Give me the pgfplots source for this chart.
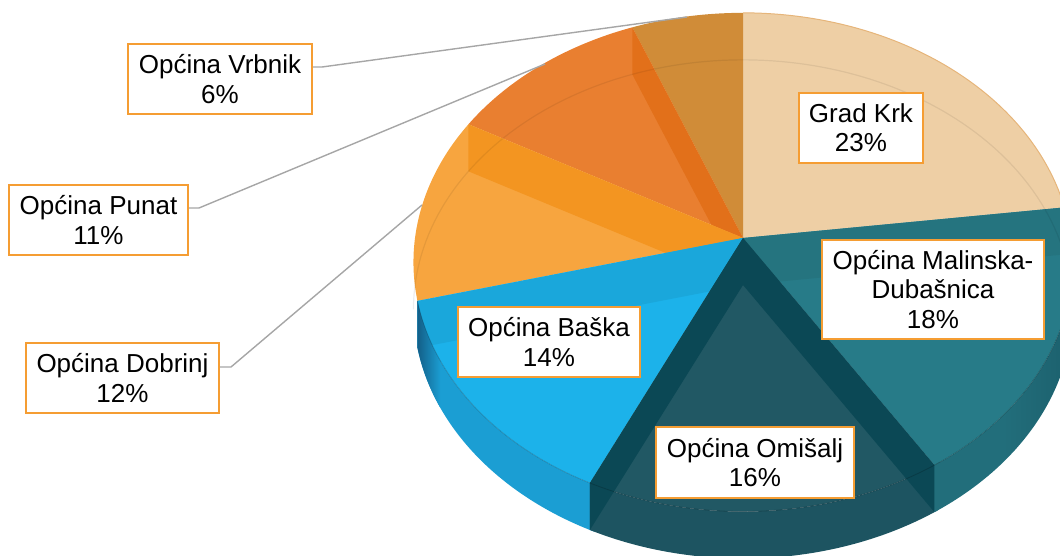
\documentclass[border=0pt]{standalone}
\usepackage{pgfplots}
\pgfplotsset{compat=1.18}
\usepackage{fontspec}
\setmainfont{Liberation Sans}
\definecolor{cKrk}{HTML}{EECFA5}
\definecolor{cKrkE}{HTML}{E6B57A}
\definecolor{cMal}{HTML}{277B88}
\definecolor{cMalB}{HTML}{25747F}
\definecolor{cMalS}{HTML}{226E7B}
\definecolor{cMalSD}{HTML}{1C606D}
\definecolor{cOmi}{HTML}{215864}
\definecolor{cOmiB}{HTML}{0B4855}
\definecolor{cOmiS}{HTML}{1D5461}
\definecolor{cBas}{HTML}{1CB2EA}
\definecolor{cBasB}{HTML}{1AA7DB}
\definecolor{cBasS}{HTML}{1B9ED3}
\definecolor{cBasSD}{HTML}{135F88}
\definecolor{cDob}{HTML}{F7A53F}
\definecolor{cDobB}{HTML}{F39521}
\definecolor{cPun}{HTML}{E97F30}
\definecolor{cPunB}{HTML}{E2701A}
\definecolor{cVrb}{HTML}{D08C38}
\definecolor{lblorange}{HTML}{F59D33}
\definecolor{leader}{HTML}{A6A6A6}

% shares (percent)
\def\pKrk{23}\def\pMal{18}\def\pOmi{16}\def\pBas{14}\def\pDob{12}\def\pPun{11}\def\pVrb{6}
\def\cx{743}\def\cy{238}\def\dep{47}

\newcommand\topface[3]{\addplot[fill=#1,draw=none,domain=#3:#2,samples=80,variable=\t] ({px(\t)},{py(\t)}) -- (axis cs:\cx,\cy) -- cycle;}
\newcommand\sideface[3]{\addplot[#1,draw=none,domain=0:2,samples=241,variable=\s] ({px(sth(\s,#2,#3))},{py(sth(\s,#2,#3))+\dep*(\s>1)}) -- cycle;}
\newcommand\wallband[3]{\addplot[fill=#1,draw=none] coordinates {(\cx,\cy) (#2,#3) (#2,#3+\dep) (\cx,\cy+\dep)} -- cycle;}

\begin{document}
\begin{tikzpicture}[declare function={
  px(\t)=743+328*cos(\t)/(1+0.097*sin(\t));
  py(\t)=238-247*sin(\t)/(1+0.097*sin(\t));
  sth(\s,\a,\b)=\a+(\b-\a)*(\s-2*(\s-1)*(\s>1));
},
lbl/.style={draw=lblorange, line width=1pt, fill=white, align=center, inner sep=0pt,
  font=\fontsize{13}{14.7}\selectfont, text=black}]
\pgfmathsetmacro\tA{90}
\pgfmathsetmacro\tB{\tA-3.6*\pKrk}
\pgfmathsetmacro\tC{\tB-3.6*\pMal}
\pgfmathsetmacro\tD{\tC-3.6*\pOmi}
\pgfmathsetmacro\tE{\tD-3.6*\pBas}
\pgfmathsetmacro\tF{\tE-3.6*\pDob}
\pgfmathsetmacro\tG{\tF-3.6*\pPun}
\pgfmathsetmacro\tZ{\tG-3.6*\pVrb}
\pgfmathsetmacro\tEm{\tE+14}
\pgfmathsetmacro\tDx{\tD+1.2}
\pgfmathsetmacro\tCx{\tC+1.2}
\pgfmathsetmacro\xB{px(\tB)}\pgfmathsetmacro\yB{py(\tB)}
\pgfmathsetmacro\xC{px(\tC)}\pgfmathsetmacro\yC{py(\tC)}
\pgfmathsetmacro\xD{px(\tD)}\pgfmathsetmacro\yD{py(\tD)}
\pgfmathsetmacro\xE{px(\tE)}\pgfmathsetmacro\yE{py(\tE)}
\pgfmathsetmacro\xF{px(\tF)}\pgfmathsetmacro\yF{py(\tF)}
\pgfmathsetmacro\xG{px(\tG)}\pgfmathsetmacro\yG{py(\tG)}
\begin{axis}[width=530pt,height=278pt,scale only axis,
  xmin=0,xmax=1060,ymin=0,ymax=556,y dir=reverse,
  hide axis,clip=true]
\path (axis cs:0,0) (axis cs:1060,556);
% top faces, back to front, with see-through wall bands
\topface{cKrk}{\tA}{\tB}
\topface{cVrb}{\tG}{\tZ}
\topface{cPun}{\tF}{\tG}
\wallband{cPunB}{\xG}{\yG}
\topface{cDob}{\tE}{\tF}
\wallband{cDobB}{\xF}{\yF}
\topface{cBas}{\tD}{\tE}
\wallband{cBasB}{\xE}{\yE}
\topface{cMal}{\tB}{\tC}
\wallband{cMalB}{\xB}{\yB}
\topface{cOmi}{\tC}{\tD}
% bottom rim seen through the back
\addplot[draw=black,opacity=0.07,line width=0.6pt,domain=-5.6:185.6,samples=120,variable=\t] ({px(\t)},{py(\t)+\dep});
% Krk outline
\addplot[draw=cKrkE,line width=0.5pt,domain=\tB:\tA,samples=80,variable=\t] ({px(\t)},{py(\t)});
% front sides (slightly overlapping to avoid seams)
\sideface{fill=cBasS}{\tE}{\tDx}
\sideface{left color=cBasSD,right color=cBasS}{\tE}{\tEm}
\sideface{fill=cOmiS}{\tD}{\tCx}
\sideface{left color=cMalS,right color=cMalSD,middle color=cMalS}{\tC}{-5.6}
% walls seen through the Omisalj slice
\wallband{cOmiB}{\xD}{\yD}
\wallband{cOmiB}{\xC}{\yC}
% rim line between top and side
\addplot[draw=black,opacity=0.18,line width=0.4pt,domain=-165.6:-5.6,samples=120,variable=\t] ({px(\t)},{py(\t)});
% leader lines
\addplot[draw=leader,line width=0.7pt] coordinates {(312,67) (322,67) (687,17)};
\addplot[draw=leader,line width=0.7pt] coordinates {(188,208) (199,208) (545,64)};
\addplot[draw=leader,line width=0.7pt] coordinates {(219,367) (231,367) (422,205)};
% labels
\node[lbl,minimum width=62pt,minimum height=35pt] at (axis cs:861,128) {Grad Krk\\23\%};
\node[lbl,minimum width=111pt,minimum height=49.5pt] at (axis cs:933,289.5) {Općina Malinska-\\Dubašnica\\18\%};
\node[lbl,minimum width=99pt,minimum height=35.5pt] at (axis cs:755,462.5) {Općina Omišalj\\16\%};
\node[lbl,minimum width=91pt,minimum height=35pt] at (axis cs:549,342) {Općina Baška\\14\%};
\node[lbl,minimum width=96.5pt,minimum height=35pt] at (axis cs:122.5,378) {Općina Dobrinj\\12\%};
\node[lbl,minimum width=89.5pt,minimum height=35pt] at (axis cs:98.5,220) {Općina Punat\\11\%};
\node[lbl,minimum width=92pt,minimum height=35pt] at (axis cs:220,79) {Općina Vrbnik\\6\%};
\end{axis}
\end{tikzpicture}
\end{document}
